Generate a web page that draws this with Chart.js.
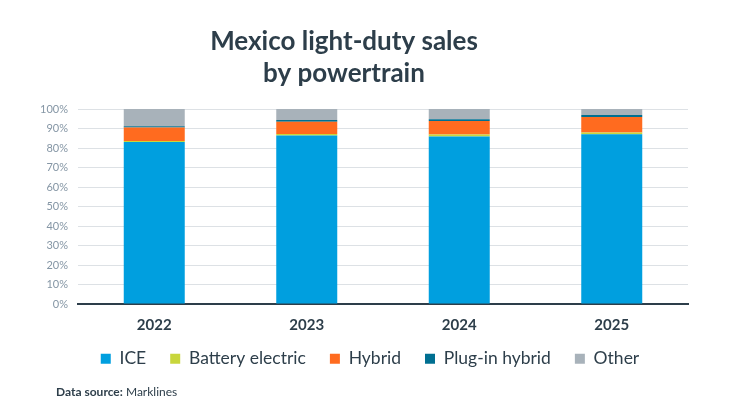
<!DOCTYPE html>
<html>
<head>
<meta charset="utf-8">
<script src="https://cdn.jsdelivr.net/npm/chart.js@4.4.1/dist/chart.umd.min.js"></script>
<style>
  html, body { margin: 0; padding: 0; background: #fff; }
  #wrap { position: relative; width: 730px; height: 411px; }
  #source { position: absolute; left: 56px; top: 384px; font: 12px Lato, sans-serif; color: #2d3e4a; }
</style>
</head>
<body>
<div id="wrap">
  <canvas id="chart" width="730" height="411"></canvas>
  <div id="source"><b>Data source:</b> Marklines</div>
</div>
<script>
// shares of light-duty sales, percent
const years = ["2022", "2023", "2024", "2025"];
const ice = [83.1, 86.4, 85.9, 87.1];
const bev = [0.5, 0.8, 1.0, 0.9];
const hybrid = [6.9, 6.2, 6.9, 7.9];
const phev = [0.7, 1.0, 0.9, 1.0];
const other = [8.8, 5.6, 5.3, 3.1];

const ink = "#2d3e4a";

// nudge the legend up/right after layout (wide item spacing, tight top gap)
const legendNudge = {
  id: "legendNudge",
  afterLayout(chart) {
    const lg = chart.legend;
    if (!lg) return;
    lg.top -= 20;
    lg.bottom -= 20;
    lg.left += 26;
    lg.right += 26;
  }
};

const ctx = document.getElementById("chart").getContext("2d");

new Chart(ctx, {
  type: "bar",
  data: {
    labels: years,
    datasets: [
      { label: "ICE", data: ice, backgroundColor: "#009fdf" },
      { label: "Battery electric", data: bev, backgroundColor: "#c8d63c" },
      { label: "Hybrid", data: hybrid, backgroundColor: "#ff6b1f" },
      { label: "Plug-in hybrid", data: phev, backgroundColor: "#006f91" },
      { label: "Other", data: other, backgroundColor: "#a8b2ba" }
    ]
  },
  plugins: [legendNudge],
  options: {
    responsive: false,
    animation: false,
    datasets: {
      bar: { barPercentage: 0.4, categoryPercentage: 1.0 }
    },
    layout: { padding: { left: 0, right: 42, top: 0, bottom: 13.5 } },
    scales: {
      x: {
        stacked: true,
        grid: { display: false, drawTicks: false },
        border: { color: ink, width: 2 },
        ticks: {
          color: ink,
          padding: 12,
          font: { family: "Lato", size: 15, weight: "bold" }
        }
      },
      y: {
        stacked: true,
        min: 0,
        max: 100,
        afterFit: (scale) => { scale.width = 78; },
        grid: { color: "#dde1e5", drawTicks: false },
        border: { display: false },
        ticks: {
          stepSize: 10,
          padding: 10,
          color: "#8596a5",
          font: { family: "Lato", size: 11 },
          callback: (v) => v + "%"
        }
      }
    },
    plugins: {
      title: {
        display: true,
        text: ["Mexico light-duty sales", "by powertrain"],
        color: ink,
        font: { family: "Lato", size: 26, weight: "bold", lineHeight: 1.25 },
        padding: { top: 25, bottom: 19 }
      },
      legend: {
        position: "bottom",
        labels: {
          boxWidth: 10,
          boxHeight: 10,
          padding: 24,
          color: ink,
          font: { family: "Lato", size: 17.5 }
        }
      },
      tooltip: { enabled: false }
    }
  }
});
</script>
</body>
</html>
